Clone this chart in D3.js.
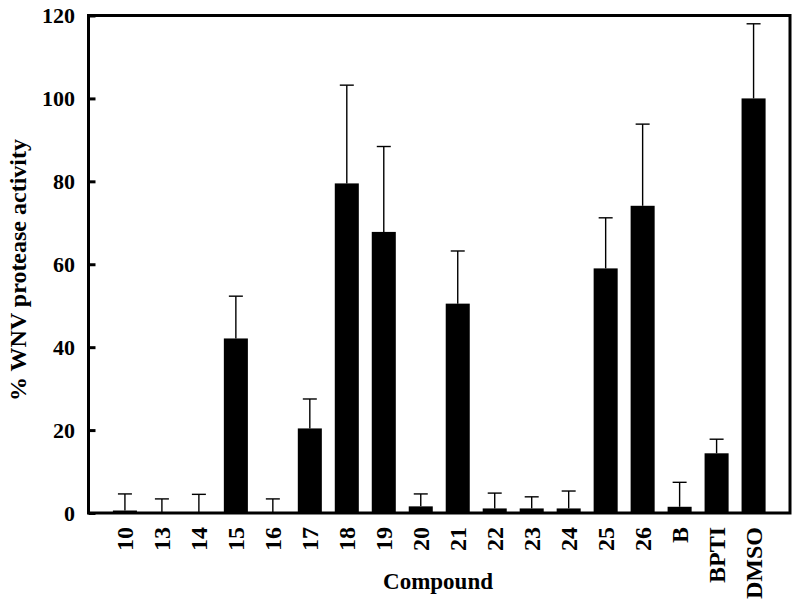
<!DOCTYPE html>
<html>
<head>
<meta charset="utf-8">
<script src="https://cdn.jsdelivr.net/npm/d3@7"></script>
<style>
  body { margin: 0; background: #fff; }
  text { font-family: "Liberation Serif", "Times New Roman", serif; font-weight: bold; fill: #000; }
</style>
</head>
<body>
<div class="container"></div>
<script>
const categories = ["10", "13", "14", "15", "16", "17", "18", "19", "20", "21", "22", "23", "24", "25", "26", "B", "BPTI", "DMSO"];
const activity = [0.6, 0.2, 0.2, 42.1, 0.2, 20.4, 79.5, 67.8, 1.6, 50.5, 1.1, 1.1, 1.1, 59.0, 74.1, 1.5, 14.4, 100];
const errorTop = [4.6, 3.4, 4.5, 52.3, 3.4, 27.5, 103.2, 88.4, 4.6, 63.2, 4.8, 3.9, 5.3, 71.2, 93.8, 7.4, 17.8, 118.0];
const yTicks = [0, 20, 40, 60, 80, 100, 120];

const width = 800, height = 604;
const margin = { top: 15.5, right: 10, bottom: 91, left: 88.5 };
const plotBottom = height - margin.bottom;
const plotRight = width - margin.right;

const svg = d3.select(".container")
  .append("svg")
  .attr("width", width)
  .attr("height", height);

const x = d3.scaleBand()
  .domain(categories)
  .range([margin.left, plotRight])
  .paddingInner(0.35)
  .paddingOuter(0.66);

const y = d3.scaleLinear()
  .domain([0, 120])
  .range([plotBottom, margin.top]);

const rows = categories.map((c, i) => ({ c, v: activity[i], e: errorTop[i] }));

// error bars (upper only)
const err = svg.append("g").attr("stroke", "#000").attr("stroke-width", 1.4);
err.selectAll("line.stem")
  .data(rows)
  .join("line")
  .attr("class", "stem")
  .attr("x1", d => x(d.c) + x.bandwidth() / 2)
  .attr("x2", d => x(d.c) + x.bandwidth() / 2)
  .attr("y1", d => y(d.v))
  .attr("y2", d => y(d.e));
err.selectAll("line.cap")
  .data(rows)
  .join("line")
  .attr("class", "cap")
  .attr("x1", d => x(d.c) + x.bandwidth() / 2 - 7)
  .attr("x2", d => x(d.c) + x.bandwidth() / 2 + 7)
  .attr("y1", d => y(d.e))
  .attr("y2", d => y(d.e));

// bars
svg.append("g")
  .selectAll("rect")
  .data(rows)
  .join("rect")
  .attr("x", d => x(d.c))
  .attr("y", d => y(d.v))
  .attr("width", x.bandwidth())
  .attr("height", d => plotBottom - y(d.v))
  .attr("fill", "#000");

// y axis with inward ticks
const yAxis = d3.axisRight(y).tickValues(yTicks).tickSize(7).tickFormat("");
svg.append("g")
  .attr("transform", `translate(${margin.left},0)`)
  .call(yAxis)
  .call(g => g.select(".domain").remove())
  .call(g => g.selectAll(".tick line").attr("stroke", "#000").attr("stroke-width", 3));

svg.append("g")
  .selectAll("text")
  .data(yTicks)
  .join("text")
  .attr("x", 75)
  .attr("y", d => y(d))
  .attr("dy", "0.35em")
  .attr("text-anchor", "end")
  .attr("font-size", 22)
  .text(d => d);

// frame
svg.append("path")
  .attr("d", `M${margin.left},${margin.top}V${plotBottom}H${plotRight}V${margin.top}Z`)
  .attr("fill", "none")
  .attr("stroke", "#000")
  .attr("stroke-width", 3);

// x labels rotated
svg.append("g")
  .selectAll("text")
  .data(categories)
  .join("text")
  .attr("transform", d => `translate(${x(d) + x.bandwidth() / 2},${plotBottom + 14}) rotate(-90)`)
  .attr("dy", "0.35em")
  .attr("text-anchor", "end")
  .attr("font-size", 24)
  .text(d => d);

svg.append("text")
  .attr("x", 438)
  .attr("y", 589)
  .attr("text-anchor", "middle")
  .attr("font-size", 23)
  .text("Compound");

svg.append("text")
  .attr("transform", "translate(26,270) rotate(-90)")
  .attr("text-anchor", "middle")
  .attr("font-size", 24)
  .text("% WNV protease activity");
</script>
</body>
</html>
